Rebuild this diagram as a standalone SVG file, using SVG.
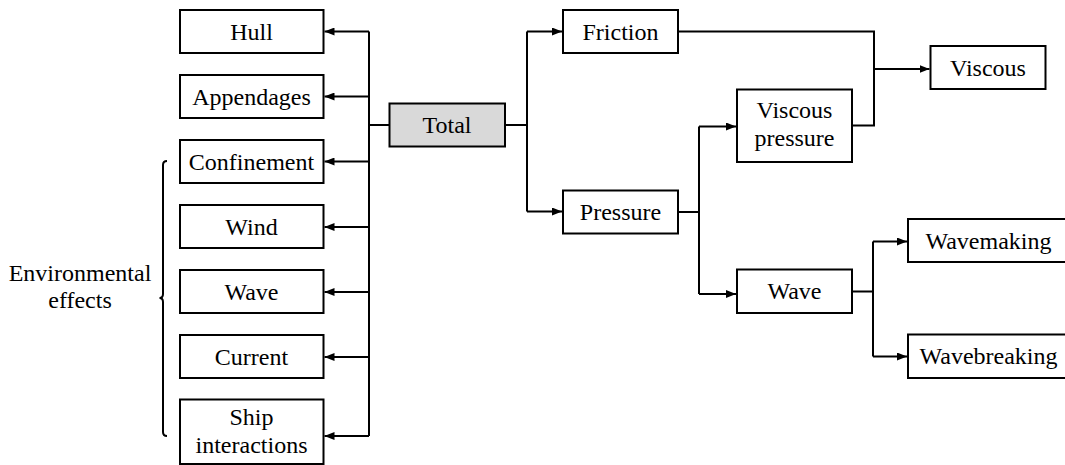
<svg xmlns="http://www.w3.org/2000/svg" width="1065" height="465" viewBox="0 0 1065 465">
<defs>
<marker id="ah" viewBox="0 0 10 8" markerWidth="10" markerHeight="8" refX="10" refY="4" orient="auto" markerUnits="userSpaceOnUse">
<path d="M0,0 L10,4 L0,8 Z" fill="#000"/>
</marker>
</defs>
<rect width="1065" height="465" fill="#fff"/>
<g id="connectors" fill="none" stroke="#000" stroke-width="2">
<path d="M369,31.5 V436 M389,125 H369"/>
<path marker-end="url(#ah)" d="M369,31.5 H324.5"/>
<path marker-end="url(#ah)" d="M369,96.5 H324.5"/>
<path marker-end="url(#ah)" d="M369,161.5 H324.5"/>
<path marker-end="url(#ah)" d="M369,227 H324.5"/>
<path marker-end="url(#ah)" d="M369,292 H324.5"/>
<path marker-end="url(#ah)" d="M369,357 H324.5"/>
<path marker-end="url(#ah)" d="M369,436 H324.5"/>
<path d="M505,125 H527 M527,31.5 V211.5"/>
<path marker-end="url(#ah)" d="M527,31.5 H562"/>
<path marker-end="url(#ah)" d="M527,211.5 H562"/>
<path d="M678,31.5 H874 V125.5 H852"/>
<path marker-end="url(#ah)" d="M874,69 H929.5"/>
<path d="M678,212 H699 M699,126.5 V294"/>
<path marker-end="url(#ah)" d="M699,126.5 H736"/>
<path marker-end="url(#ah)" d="M699,294 H736"/>
<path d="M852,291.5 H873 M873,241.5 V356.5"/>
<path marker-end="url(#ah)" d="M873,241.5 H907"/>
<path marker-end="url(#ah)" d="M873,356.5 H907"/>
<path d="M167,161 Q163,161 163,165 L163,294 Q163,298 159.5,298 Q163,298 163,302 L163,432 Q163,436 167,436"/>
</g>
<g id="nodes" stroke="#000" stroke-width="2" fill="#fff">
<rect id="hull" x="180" y="10" width="143.5" height="43"/>
<rect id="appendages" x="180" y="75" width="143.5" height="43"/>
<rect id="confinement" x="180" y="140" width="143.5" height="43"/>
<rect id="wind" x="180" y="205" width="143.5" height="43"/>
<rect id="wave-env" x="180" y="270" width="143.5" height="43"/>
<rect id="current" x="180" y="335" width="143.5" height="43"/>
<rect id="ship" x="180" y="399.5" width="143.5" height="64.5"/>
<rect id="total" x="389.5" y="103.5" width="115.5" height="43" fill="#d9d9d9"/>
<rect id="friction" x="563" y="10" width="115" height="43"/>
<rect id="pressure" x="563" y="190.5" width="115" height="43"/>
<rect id="viscous-pressure" x="737" y="89.5" width="115" height="72.5"/>
<rect id="viscous" x="930.5" y="46" width="115" height="43"/>
<rect id="wave" x="737" y="269.5" width="115" height="43.5"/>
<rect id="wavemaking" x="908" y="219" width="165" height="43"/>
<rect id="wavebreaking" x="908" y="334.5" width="165" height="43.5"/>
</g>
<g id="labels" font-family="Liberation Serif" font-size="24" text-anchor="middle" fill="#000">
<text x="251.5" y="39.5">Hull</text>
<text x="251.5" y="104.5">Appendages</text>
<text x="251.5" y="169.5">Confinement</text>
<text x="251.5" y="234.5">Wind</text>
<text x="251.5" y="299.5">Wave</text>
<text x="251.5" y="364.5">Current</text>
<text x="251.5" y="425">Ship</text>
<text x="251.5" y="453">interactions</text>
<text x="80" y="281">Environmental</text>
<text x="80" y="308">effects</text>
<text x="447" y="133">Total</text>
<text x="620.5" y="39.5">Friction</text>
<text x="620.5" y="220">Pressure</text>
<text x="794.5" y="118">Viscous</text>
<text x="794.5" y="146">pressure</text>
<text x="988" y="75.5">Viscous</text>
<text x="794.5" y="299">Wave</text>
<text x="988.5" y="248.5">Wavemaking</text>
<text x="988.5" y="364">Wavebreaking</text>
</g>
</svg>
